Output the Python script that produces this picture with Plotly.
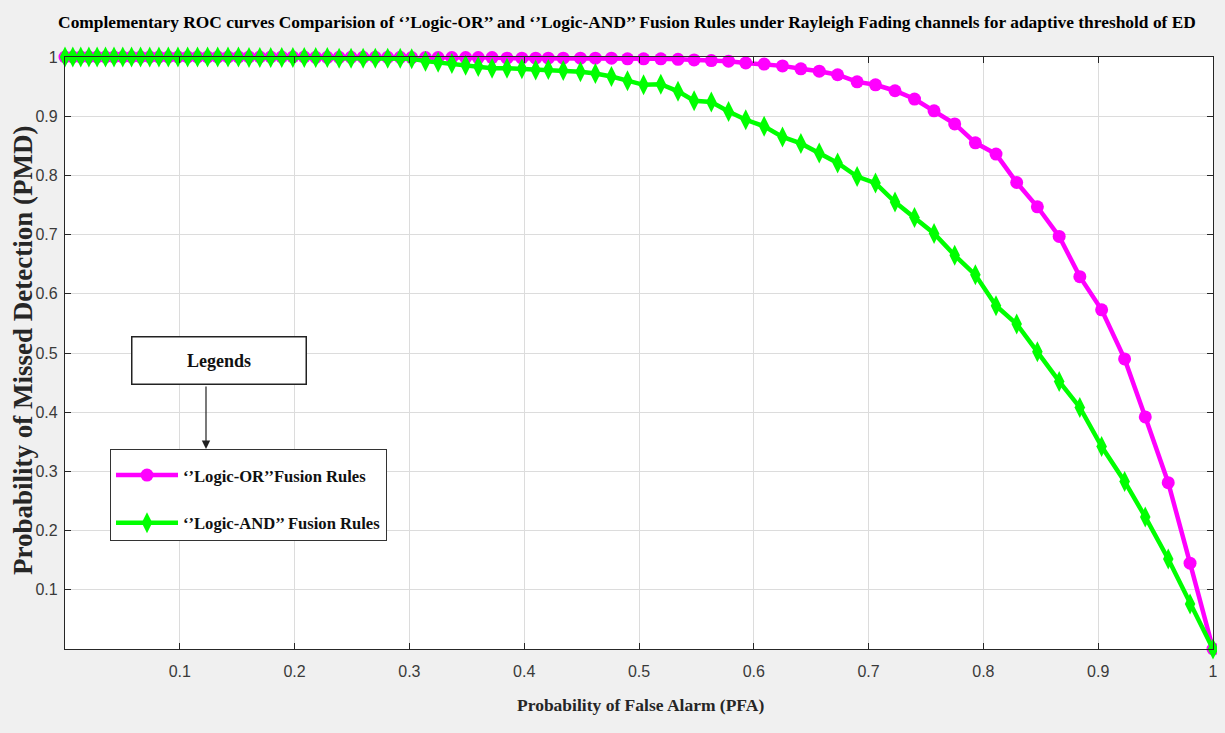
import plotly.graph_objects as go

# ---- data ----
pfa = [0.0, 0.0068, 0.0137, 0.0208, 0.0280, 0.0353, 0.0427, 0.0503, 0.0580, 0.0658,
       0.0738, 0.0818, 0.0900, 0.0984, 0.1068, 0.1154, 0.1242, 0.1330, 0.1420, 0.1511,
       0.1603, 0.1697, 0.1792, 0.1888, 0.1985, 0.2084, 0.2184, 0.2285, 0.2388, 0.2492,
       0.2597, 0.2703, 0.2811, 0.2920,
       0.302, 0.314, 0.325, 0.337, 0.349, 0.360, 0.372, 0.385, 0.398, 0.410,
       0.421, 0.434, 0.449, 0.462, 0.476, 0.490,
       0.504, 0.519, 0.534, 0.548, 0.563, 0.578, 0.593, 0.609, 0.625, 0.641,
       0.657, 0.673, 0.690, 0.706, 0.723, 0.740, 0.757, 0.775, 0.793, 0.811,
       0.829, 0.847, 0.866, 0.884, 0.903, 0.923, 0.941, 0.961, 0.980, 1.000]

pmd_or = [1.000, 1.000, 1.000, 1.000, 1.000, 1.000, 1.000, 1.000, 1.000, 1.000,
          1.000, 1.000, 1.000, 1.000, 1.000, 1.000, 1.000, 1.000, 1.000, 1.000,
          1.000, 1.000, 1.000, 1.000, 1.000, 1.000, 0.9995, 0.9995, 0.9995, 0.9995,
          0.9995, 0.9995, 0.9995, 0.9995,
          0.999, 0.999, 0.999, 0.999, 0.999, 0.999, 0.999, 0.998, 0.998, 0.998,
          0.998, 0.998, 0.998, 0.998, 0.998, 0.997,
          0.997, 0.997, 0.996, 0.995, 0.994, 0.993, 0.990, 0.988, 0.985, 0.980,
          0.976, 0.970, 0.958, 0.953, 0.943, 0.929, 0.909, 0.887, 0.855, 0.836,
          0.788, 0.747, 0.697, 0.629, 0.573, 0.490, 0.392, 0.281, 0.145, 0.000]

pmd_and = [1.000, 1.000, 1.000, 1.000, 1.000, 1.000, 1.000, 1.000, 1.000, 1.000,
           1.000, 1.000, 1.000, 1.000, 1.000, 1.000, 1.000, 1.000, 1.000, 1.000,
           0.999, 0.999, 0.999, 0.999, 0.999, 0.999, 0.999, 0.999, 0.998, 0.998,
           0.998, 0.998, 0.998, 0.998,
           0.997, 0.993, 0.991, 0.989, 0.986, 0.984, 0.981, 0.981, 0.980, 0.978,
           0.979, 0.977, 0.975, 0.972, 0.967, 0.960,
           0.953, 0.954, 0.942, 0.926, 0.924, 0.908, 0.894, 0.883, 0.865, 0.854,
           0.838, 0.821, 0.798, 0.787, 0.755, 0.729, 0.702, 0.665, 0.632, 0.580,
           0.549, 0.502, 0.452, 0.408, 0.342, 0.283, 0.223, 0.152, 0.076, 0.000]

tick_vals = [0.1, 0.2, 0.3, 0.4, 0.5, 0.6, 0.7, 0.8, 0.9, 1.0]
tick_text = ["0.1", "0.2", "0.3", "0.4", "0.5", "0.6", "0.7", "0.8", "0.9", "1"]

name_or = "‘’Logic-OR’’Fusion Rules"
name_and = "‘’Logic-AND’’ Fusion Rules"
title_text = ("Complementary ROC curves Comparision of ‘’Logic-OR’’ and ‘’Logic-AND’’ "
              "Fusion Rules under Rayleigh Fading channels for adaptive threshold of ED")

SERIF = "Liberation Serif, Times New Roman, serif"
SANS = "Liberation Sans Narrow, Arial Narrow, Liberation Sans, Arial, sans-serif"

fig = go.Figure()
fig.add_trace(go.Scatter(
    x=pfa, y=pmd_or, mode="lines+markers", name=name_or, legendgroup="a",
    line=dict(color="#ff00ff", width=4.5),
    marker=dict(symbol="circle", size=13, color="#ff00ff", line=dict(width=0)),
    cliponaxis=False))
fig.add_trace(go.Scatter(
    x=pfa, y=pmd_and, mode="lines+markers", name=name_and, legendgroup="b",
    line=dict(color="#00ff00", width=4.5),
    marker=dict(symbol="diamond-tall", size=15, color="#00ff00", line=dict(width=0)),
    cliponaxis=False))

# default page body margin is 8px; keep the figure inside the window with no overflow
OFF = 8
W, H = 1225 - 2 * OFF, 733 - 2 * OFF
L = 65 - OFF
T = 57 - OFF
R = (OFF + W) - 1213
B = (OFF + H) - 649
pw, ph = W - L - R, H - T - B


def px(xp):
    return (xp - OFF - L) / pw


def py(yp):
    return (H - B - (yp - OFF)) / ph


axis_common = dict(
    range=[0, 1], tickvals=tick_vals, ticktext=tick_text,
    showgrid=True, gridcolor="#dcdcdc", gridwidth=1,
    showline=True, linecolor="#262626", linewidth=1.3, mirror="ticks",
    ticks="inside", ticklen=6, tickcolor="#262626", tickwidth=1,
    tickfont=dict(family=SANS, size=16, color="#3a3a3a"),
    zeroline=False, fixedrange=True, ticklabeloverflow="allow",
    automargin=False,
)

fig.update_layout(
    width=W, height=H, autosize=False,
    margin=dict(l=L, r=R, t=T, b=B, pad=0, autoexpand=False),
    paper_bgcolor="#f0f0f0", plot_bgcolor="#ffffff",
    title=dict(text="<b>" + title_text + "</b>", xref="paper", x=px(627), xanchor="center",
               yref="container", y=1 - (22 - OFF) / H, yanchor="middle",
               font=dict(family=SERIF, size=17.4, color="#000000")),
    xaxis=dict(**axis_common, ticklabelstandoff=8),
    yaxis=dict(**axis_common, ticklabelstandoff=3),
    showlegend=True,
    legend=dict(
        x=px(110), y=py(449), xanchor="left", yanchor="top",
        bgcolor="#ffffff", bordercolor="#333333", borderwidth=1,
        font=dict(family=SERIF, size=16.6, color="#111111", weight="bold"),
        title=dict(text="\u00a0", font=dict(size=6)),
        itemwidth=62, tracegroupgap=23, itemclick=False, itemdoubleclick=False,
    ),
    annotations=[
        dict(text="<b>Probability of False Alarm (PFA)</b>", xref="paper", yref="paper",
             x=px(640), y=py(705), xanchor="center", yanchor="middle", showarrow=False,
             font=dict(family=SERIF, size=17.5, color="#262626")),
        dict(text="<b>Probability of Missed Detection (PMD)</b>", xref="paper", yref="paper",
             x=px(23), y=py(351), xanchor="center", yanchor="middle", showarrow=False,
             textangle=-90, font=dict(family=SERIF, size=27, color="#262626")),
        dict(text="<b>Legends</b>", xref="paper", yref="paper",
             x=px(218.5), y=py(360), xanchor="center", yanchor="middle", showarrow=False,
             width=171, height=44, borderpad=1, bgcolor="#ffffff",
             bordercolor="#222222", borderwidth=1.5,
             font=dict(family=SERIF, size=18, color="#111111")),
        dict(text="", xref="paper", yref="paper", x=px(206), y=py(449),
             axref="pixel", ayref="pixel", ax=0, ay=-(449 - 385),
             showarrow=True, arrowhead=2, arrowsize=1.4, arrowwidth=1.2,
             arrowcolor="#222222", standoff=0),
    ],
)

fig.write_html("out.html", post_script="document.body.style.background='#f0f0f0';")
